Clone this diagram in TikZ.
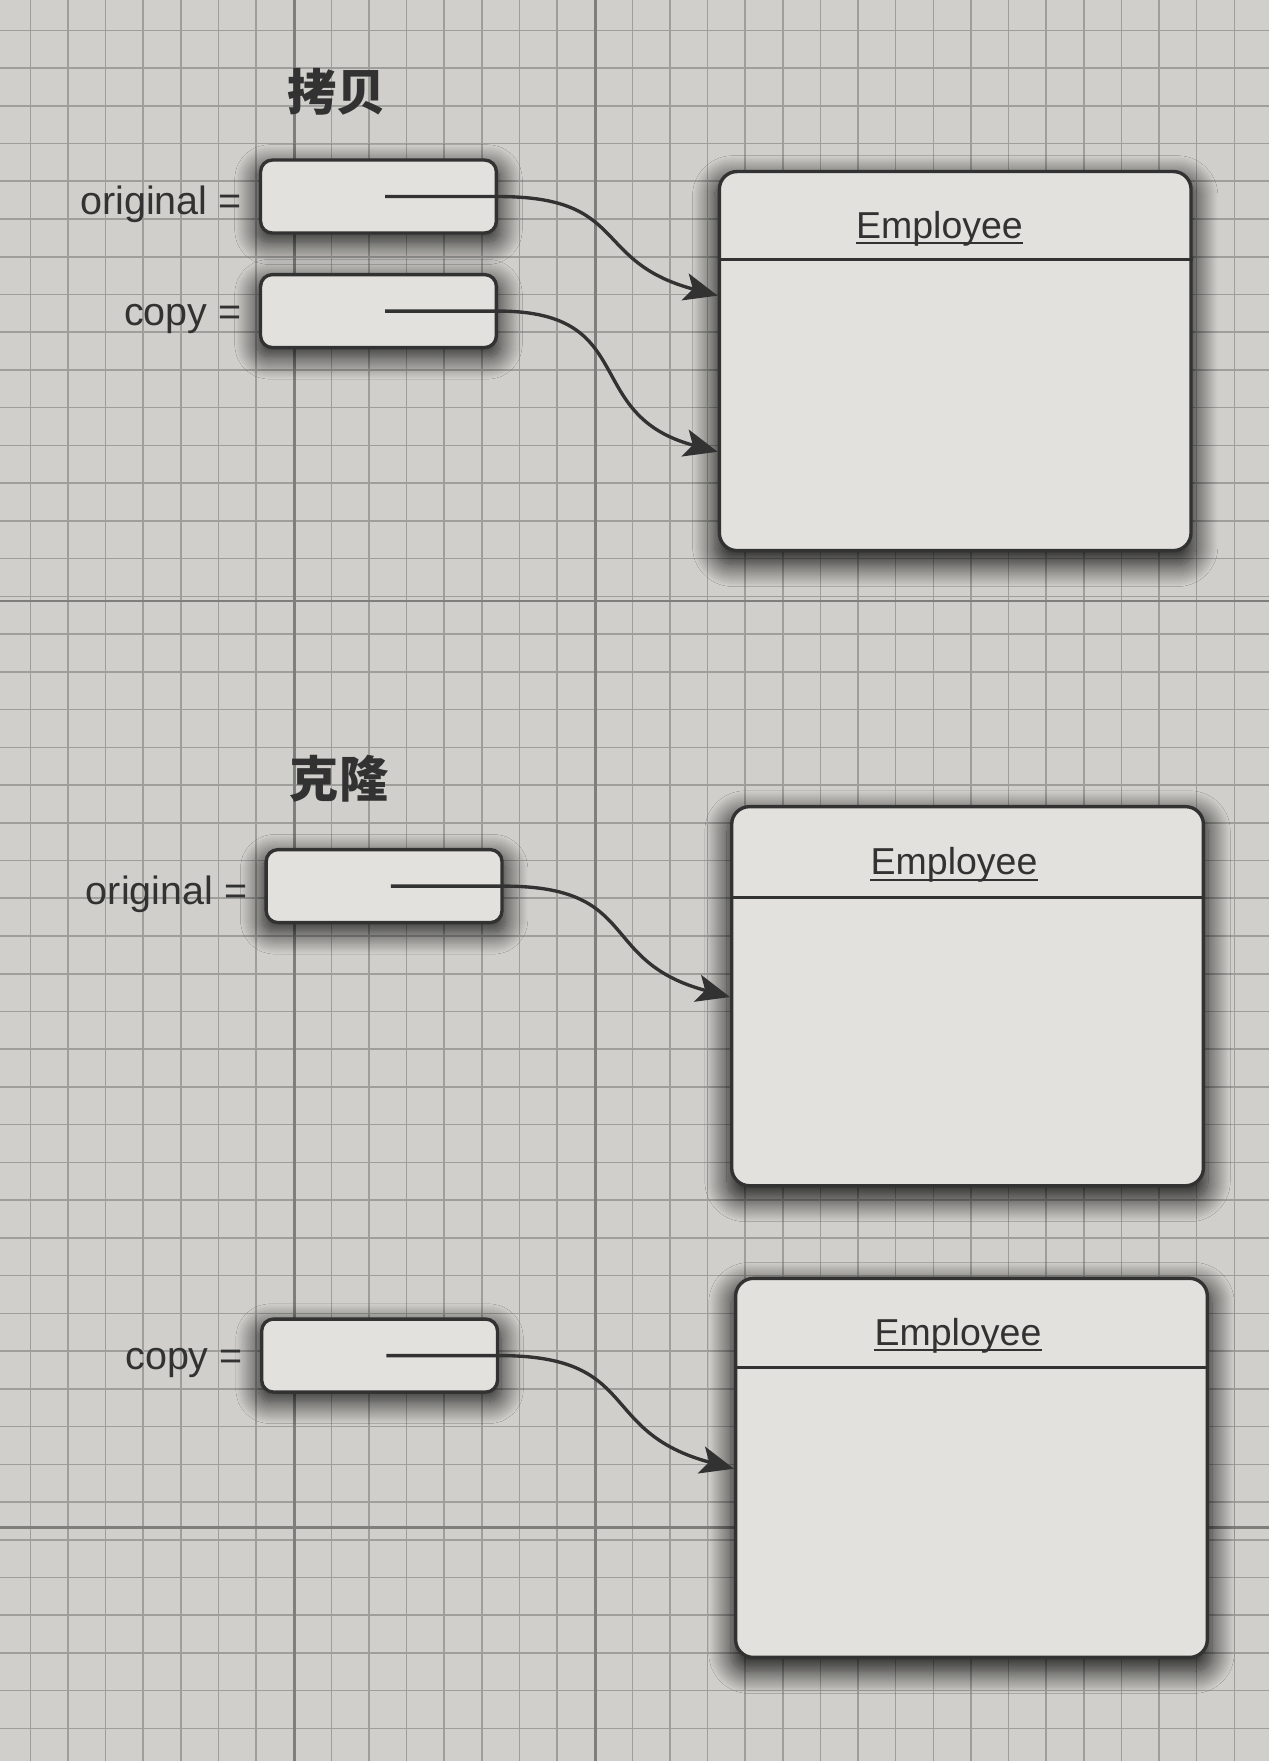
\documentclass[tikz,border=0pt]{standalone}
\usepackage{fontspec}
\setmainfont{Liberation Sans}
\newfontfamily\cjk{Noto Sans CJK SC}
\usetikzlibrary{positioning,arrows.meta,shadows.blur,calc}
\definecolor{paper}{RGB}{208,207,203}
\definecolor{boxfill}{RGB}{226,225,222}
\definecolor{gridline}{RGB}{158,158,155}
\definecolor{ink}{RGB}{50,50,50}
\tikzset{
  gridrule/.style={gridline, line width=0.8pt},
  majorrule/.style={gridline!80!black, line width=1.3pt},
  varbox/.style={draw=ink, line width=1.7pt, fill=boxfill, rounded corners=6pt,
    minimum width=4.2cm, minimum height=1.3cm,
    blur shadow={shadow xshift=0pt, shadow yshift=-4pt, shadow blur radius=11pt, shadow blur steps=24, shadow opacity=90, shadow scale=1.03}},
  objbox/.style={draw=ink, line width=1.7pt, fill=boxfill, rounded corners=9pt,
    minimum width=8.4cm, minimum height=6.75cm,
    blur shadow={shadow xshift=0pt, shadow yshift=-5pt, shadow blur radius=11pt, shadow blur steps=24, shadow opacity=90, shadow scale=1.02}},
  varname/.style={font=\fontsize{20}{24}\selectfont, text=ink, inner sep=0pt},
  classname/.style={font=\fontsize{19}{23}\selectfont, text=ink, inner sep=0pt},
  caption/.style={font=\cjk\bfseries\fontsize{25}{30}\selectfont, text=ink, inner sep=0pt},
  divider/.style={ink, line width=1.5pt},
  ref/.style={draw=ink, line width=1.7pt, -{Stealth[length=17pt,width=14pt,inset=4pt]}},
}
\begin{document}
\begin{tikzpicture}
\useasboundingbox (0,0) rectangle (22.6,-31.36);
\fill[paper] (0,0) rectangle (22.6,-31.36);
\foreach \i in {0,...,32}
  \draw[gridrule] ({0.54+0.67*\i},0) -- ++(0,-31.36);
\foreach \j in {0,...,45}
  \draw[gridrule] (0,{-0.54-0.672*\j}) -- ++(22.6,0);
\draw[majorrule] (5.24,0) -- (5.24,-31.36);
\draw[majorrule] (10.6,0) -- (10.6,-31.36);
\draw[majorrule] (0,-10.7) -- (22.6,-10.7);
\draw[majorrule] (0,-27.2) -- (22.6,-27.2);

\node[caption] (copyhead) at (6.0,-1.64) {拷贝};
\node[varbox] (o1) at (6.74,-3.5) {};
\node[varname, left=0.3cm of o1, yshift=-0.14cm] (o1name) {original =};
\node[varbox, below=0.68cm of o1] (c1) {};
\node[varname, left=0.3cm of c1, yshift=-0.14cm] (c1name) {copy =};
\node[objbox] (e1) at (17.01,-6.43) {};
\node[classname, anchor=base] (t1) at ($(e1.north)+(-0.28,-1.22)$) {Employee};
\draw[ink, line width=1pt] ([yshift=-2.5pt]t1.base west) -- ([yshift=-2.5pt]t1.base east);
\draw[divider] ($(e1.north west)+(0,-1.6)$) -- ($(e1.north east)+(0,-1.6)$);
\draw[ref] ([xshift=0.12cm]o1.center) -- (o1.east) to[out=0,in=165,looseness=1.4] ($(e1.north west)+(0,-2.24)$);
\draw[ref] ([xshift=0.12cm]c1.center) -- (c1.east) to[out=0,in=165,looseness=1.4] ($(e1.north west)+(0,-5.02)$);

\node[caption] (clonehead) at (6.04,-13.86) {克隆};
\node[varbox] (o2) at (6.84,-15.78) {};
\node[varname, left=0.3cm of o2, yshift=-0.14cm] (o2name) {original =};
\node[objbox] (e2) at (17.23,-17.74) {};
\node[classname, anchor=base] (t2) at ($(e2.north)+(-0.24,-1.24)$) {Employee};
\draw[ink, line width=1pt] ([yshift=-2.5pt]t2.base west) -- ([yshift=-2.5pt]t2.base east);
\draw[divider] ($(e2.north west)+(0,-1.64)$) -- ($(e2.north east)+(0,-1.64)$);
\draw[ref] ([xshift=0.12cm]o2.center) -- (o2.east) to[out=0,in=165,looseness=1.4] ($(e2.north west)+(0,-3.42)$);

\node[varbox] (c2) at (6.76,-24.14) {};
\node[varname, left=0.3cm of c2, yshift=-0.14cm] (c2name) {copy =};
\node[objbox] (e3) at (17.3,-26.14) {};
\node[classname, anchor=base] (t3) at ($(e3.north)+(-0.24,-1.22)$) {Employee};
\draw[ink, line width=1pt] ([yshift=-2.5pt]t3.base west) -- ([yshift=-2.5pt]t3.base east);
\draw[divider] ($(e3.north west)+(0,-1.62)$) -- ($(e3.north east)+(0,-1.62)$);
\draw[ref] ([xshift=0.12cm]c2.center) -- (c2.east) to[out=0,in=165,looseness=1.4] ($(e3.north west)+(0,-3.42)$);
\end{tikzpicture}
\end{document}
